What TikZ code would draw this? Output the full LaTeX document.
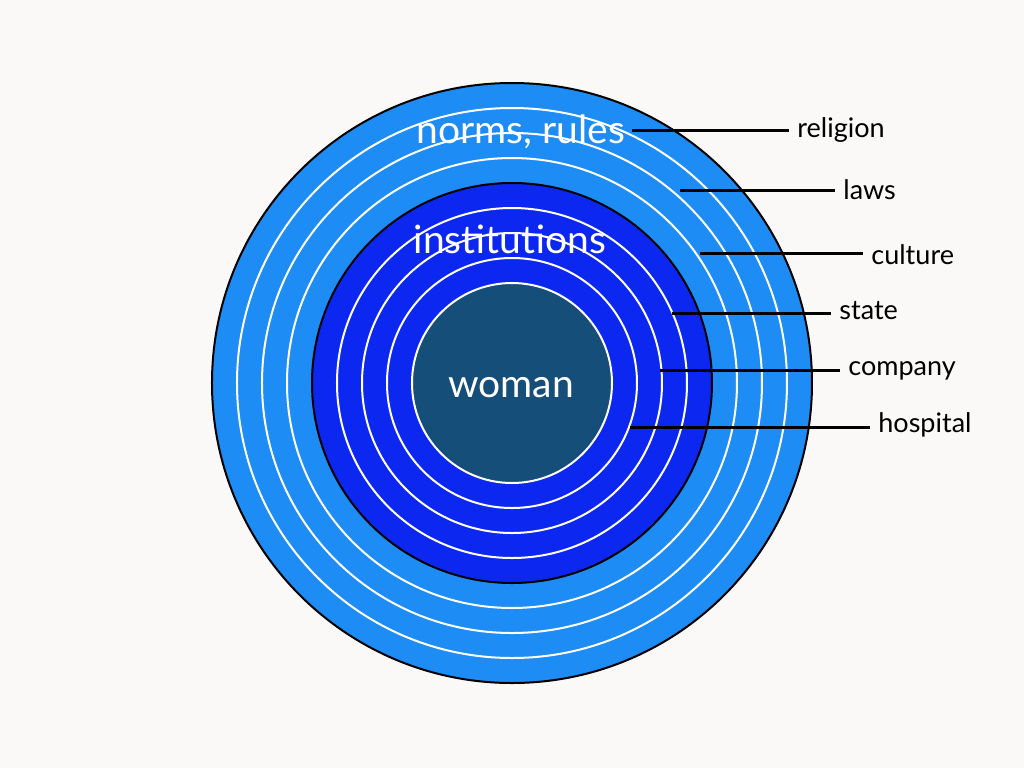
\documentclass[tikz,border=0pt]{standalone}
\usepackage{fontspec}
\setmainfont{Lato}
\definecolor{paper}{RGB}{250,249,247}
\definecolor{normblue}{RGB}{30,140,245}
\definecolor{instblue}{RGB}{12,40,240}
\definecolor{womanteal}{RGB}{22,78,122}
\tikzset{
	ring/.style = {white, line width=1pt},
	leader/.style = {black, line width=1.5pt},
	layer/.style = {font=\fontsize{13.5}{15}\selectfont, anchor=base west, inner xsep=4pt},
	inlabel/.style = {white, anchor=base, font=\fontsize{19.5}{22}\selectfont}
}

\begin{document}
\begin{tikzpicture}[x=0.5pt,y=0.5pt]
	\fill[paper] (-512,-385) rectangle (512,383);
	\useasboundingbox (-512,-385) rectangle (512,383);
	% norms and rules
	\filldraw[fill=normblue, draw=black, line width=1pt] (0,0) circle (300);
	\foreach \r in {275,250,225}
		\draw[ring] (0,0) circle (\r);
	% institutions
	\filldraw[fill=instblue, draw=black, line width=1pt] (0,0) circle (200);
	\foreach \r in {175,150,125}
		\draw[ring] (0,0) circle (\r);
	% woman
	\filldraw[fill=womanteal, draw=white, line width=1pt] (0,0) circle (100);
	\node[inlabel] (norms) at (9,240) {norms, rules};
	\node[inlabel] (inst) at (-2,130) {institutions};
	\node[inlabel] (woman) at (-1,-14) {woman};
	% layers
	\coordinate (relS) at (120,253);
	\coordinate (lawS) at (168,193);
	\coordinate (culS) at (188,130);
	\coordinate (staS) at (160,70);
	\coordinate (comS) at (148,13);
	\coordinate (hosS) at (118,-44);
	\node[layer] (religion) at (277,246) {religion};
	\node[layer] (laws) at (323,184) {laws};
	\node[layer] (culture) at (351,119) {culture};
	\node[layer] (state) at (319,64) {state};
	\node[layer] (company) at (328,8) {company};
	\node[layer] (hospital) at (358,-49) {hospital};
	\draw[leader] (relS) -- (relS -| religion.west);
	\draw[leader] (lawS) -- (lawS -| laws.west);
	\draw[leader] (culS) -- (culS -| culture.west);
	\draw[leader] (staS) -- (staS -| state.west);
	\draw[leader] (comS) -- (comS -| company.west);
	\draw[leader] (hosS) -- (hosS -| hospital.west);
\end{tikzpicture}
\end{document}
